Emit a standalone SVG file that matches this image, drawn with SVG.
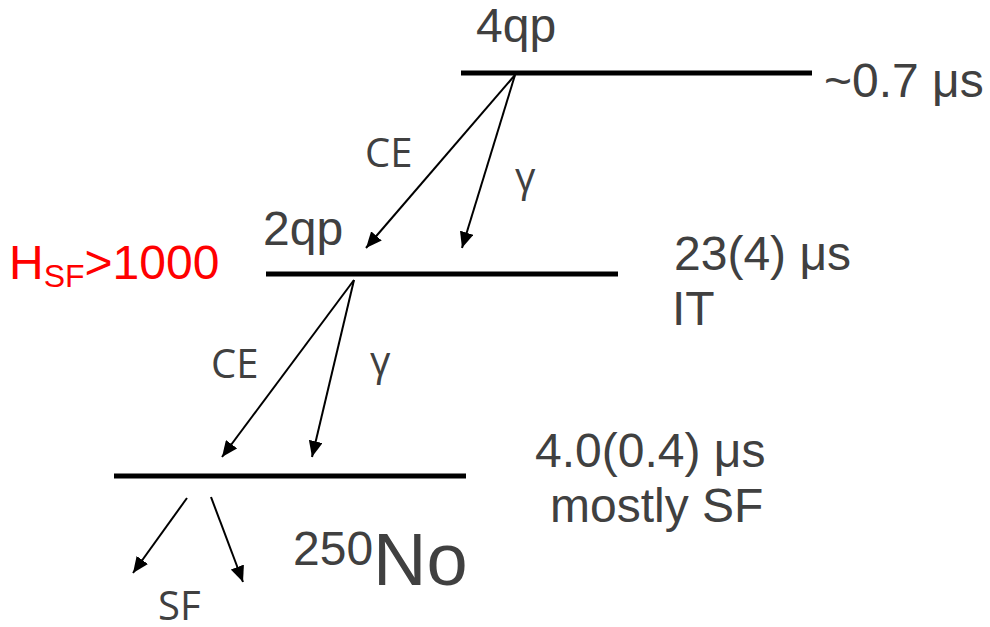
<svg xmlns="http://www.w3.org/2000/svg" width="990" height="627" viewBox="0 0 990 627">
  <defs>
    <marker id="arrow" viewBox="0 0 16 14" refX="16" refY="7" markerWidth="16" markerHeight="14" markerUnits="userSpaceOnUse" orient="auto">
      <path d="M0,0 L16,7 L0,14 z" fill="#000"/>
    </marker>
    <style>
      .level { stroke: #000; stroke-width: 5; }
      .arr { stroke: #000; stroke-width: 2; fill: none; marker-end: url(#arrow); }
      .lbl { font-family: "Liberation Sans", Arial, sans-serif; font-size: 48px; fill: #404040; }
      .dec { font-family: "Open Sans", "Noto Sans", sans-serif; font-size: 40px; fill: #404040; }
      .red { font-family: "Liberation Sans", Arial, sans-serif; font-size: 48px; fill: #ff0000; }
    </style>
  </defs>
  <rect width="990" height="627" fill="#fff"/>

  <!-- 4qp level -->
  <g id="level-4qp">
    <line class="level" x1="461" y1="73" x2="812" y2="73"/>
    <text class="lbl" x="476" y="42">4qp</text>
    <text class="lbl" x="824" y="97">~0.7 μs</text>
  </g>

  <!-- 2qp level -->
  <g id="level-2qp">
    <line class="level" x1="266" y1="274" x2="618" y2="274"/>
    <text class="lbl" x="263" y="245">2qp</text>
    <text class="lbl" x="674" y="270">23(4) μs</text>
    <text class="lbl" x="672" y="325">IT</text>
    <text class="red" x="9" y="279">H<tspan font-size="32" dy="8">SF</tspan><tspan dy="-8">&gt;1000</tspan></text>
  </g>

  <!-- ground state -->
  <g id="level-gs">
    <line class="level" x1="114" y1="476" x2="466" y2="476"/>
    <text class="lbl" x="535" y="467">4.0(0.4) μs</text>
    <text class="lbl" x="550" y="522">mostly SF</text>
    <text class="lbl" x="293" y="565" font-size="51">250<tspan font-size="74" dy="20">No</tspan></text>
  </g>

  <!-- decay branches -->
  <g id="connectors">
    <line class="arr" x1="515" y1="75" x2="366" y2="248"/>
    <line class="arr" x1="515" y1="75" x2="462" y2="248"/>
    <line class="arr" x1="354" y1="280" x2="222" y2="457"/>
    <line class="arr" x1="354" y1="280" x2="312" y2="457"/>
    <line class="arr" x1="187" y1="498" x2="133" y2="573"/>
    <line class="arr" x1="211" y1="497" x2="243" y2="582"/>
  </g>

  <!-- branch labels -->
  <g id="labels">
    <text class="dec" x="365" y="167">CE</text>
    <text class="dec" x="515" y="191">γ</text>
    <text class="dec" x="211" y="378">CE</text>
    <text class="dec" x="370" y="375">γ</text>
    <text class="dec" x="158" y="620">SF</text>
  </g>
</svg>
